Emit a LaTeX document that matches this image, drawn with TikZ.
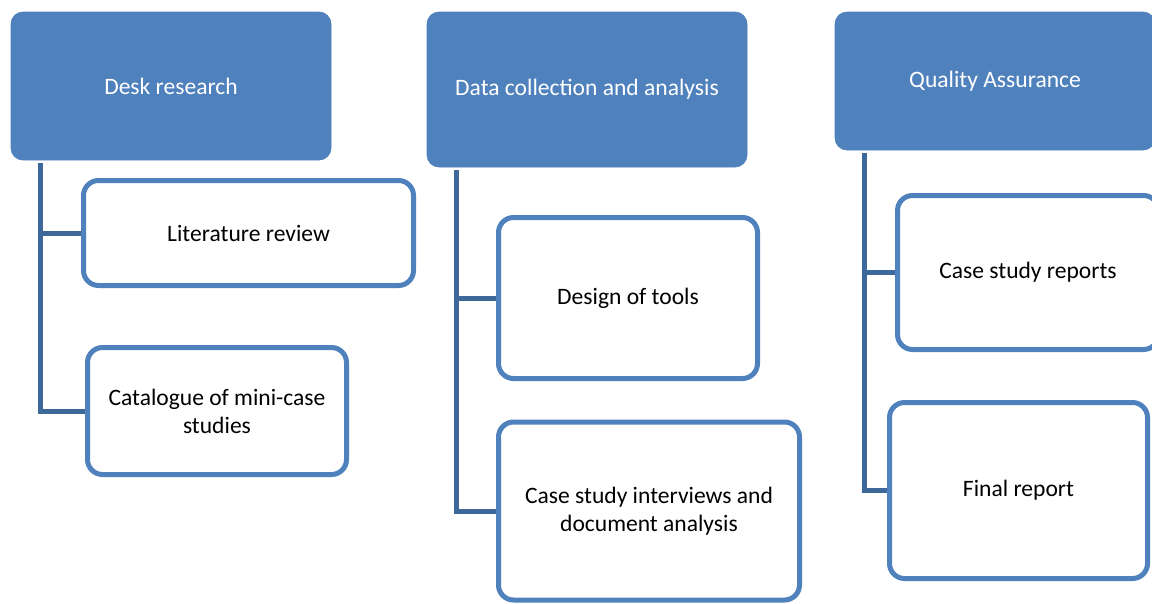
\documentclass[tikz,border=0pt]{standalone}
\usepackage{fontspec}
\setmainfont{Carlito}
\usepackage{xcolor}
\usepackage{tikz}

\definecolor{headblue}{RGB}{79,129,189}
\definecolor{linkblue}{RGB}{62,104,153}

\tikzset{
  headbox/.style={fill=headblue, draw=headblue, rounded corners=0.24cm, text=white,
    minimum width=6.4cm, align=center, font=\fontsize{13.4}{16}\selectfont},
  taskbox/.style={fill=white, draw=headblue, line width=0.1cm, rounded corners=0.3cm,
    align=center, font=\fontsize{13.4}{16}\selectfont},
  link/.style={draw=linkblue, line width=0.1cm}
}

\begin{document}
\begin{tikzpicture}
    \useasboundingbox (0,0) rectangle (23.04,-12.06);
    % Draw the three heads
    \node[headbox, minimum height=2.96cm] (desk) at (3.42,-1.72) {Desk research};
    \node[headbox, minimum height=3.1cm] (data) at (11.74,-1.79) {Data collection and analysis};
    \node[headbox, minimum height=2.76cm] (qa) at (19.9,-1.62) {Quality Assurance};
    % Draw the tasks under each head
    \node[taskbox, minimum width=6.6cm, minimum height=2.1cm] (lit) at (4.97,-4.66) {Literature review};
    \node[taskbox, minimum width=5.18cm, minimum height=2.54cm] (cat) at (4.34,-8.22) {Catalogue of mini-case\\studies};
    \node[taskbox, minimum width=5.18cm, minimum height=3.22cm] (design) at (12.56,-5.96) {Design of tools};
    \node[taskbox, minimum width=6.02cm, minimum height=3.56cm] (interv) at (12.98,-10.22) {Case study interviews and\\document analysis};
    \node[taskbox, minimum width=5.22cm, minimum height=3.08cm] (reports) at (20.56,-5.45) {Case study reports};
    \node[taskbox, minimum width=5.16cm, minimum height=3.52cm] (final) at (20.37,-9.81) {Final report};
    % Draw the links
    \draw[link] ([xshift=0.6cm,yshift=-0.06cm]desk.south west) |- (lit.west);
    \draw[link] ([xshift=0.6cm,yshift=-0.06cm]desk.south west) |- (cat.west);
    \draw[link] ([xshift=0.6cm,yshift=-0.06cm]data.south west) |- (design.west);
    \draw[link] ([xshift=0.6cm,yshift=-0.06cm]data.south west) |- (interv.west);
    \draw[link] ([xshift=0.6cm,yshift=-0.06cm]qa.south west) |- (reports.west);
    \draw[link] ([xshift=0.6cm,yshift=-0.06cm]qa.south west) |- (final.west);
\end{tikzpicture}
\end{document}
